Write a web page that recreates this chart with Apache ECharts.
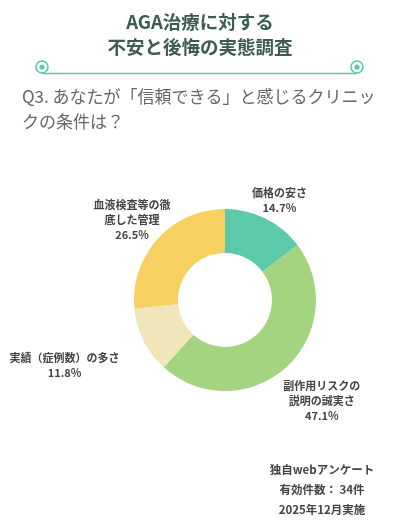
<!DOCTYPE html>
<html>
<head>
<meta charset="utf-8">
<script src="https://cdn.jsdelivr.net/npm/echarts@6/dist/echarts.min.js"></script>
<style>
  html, body { margin: 0; padding: 0; background: #fff; }
  #chart { width: 400px; height: 530px; }
</style>
</head>
<body>
<div id="chart"></div>
<script>
// 回答項目と割合
const categories = ['価格の安さ', '副作用リスクの\n説明の誠実さ', '実績（症例数）の多さ', '血液検査等の徹\n底した管理']
const values = [14.7, 47.1, 11.8, 26.5]
const colors = ['#5cc9a8', '#a4d480', '#f0e6b9', '#f7d062']

const titleLines = ['AGA治療に対する', '不安と後悔の実態調査']
const question = ['Q3. あなたが「信頼できる」と感じるクリニッ', 'クの条件は？']
const footer = ['独自webアンケート', '有効件数： 34件', '2025年12月実施']

const font = '"Noto Sans CJK JP", "Noto Sans", sans-serif'
const chart = echarts.init(document.getElementById('chart'))

// ラベルの引き出し位置（項目ごと）
const labelLines = [
  { length: 20, length2: 0 },
  { length: 45, length2: 0 },
  { length: 56, length2: 24 },
  { length: 28, length2: 0 }
]

const lineColor = '#5cc9a8'
const swirl = cx => [
  { type: 'circle', shape: { cx, cy: 67, r: 6 }, style: { fill: 'none', stroke: lineColor, lineWidth: 1.6 } },
  { type: 'circle', shape: { cx, cy: 67, r: 2.6 }, style: { fill: lineColor } }
]

chart.setOption({
  backgroundColor: '#fff',
  graphic: [
    ...titleLines.map((t, i) => ({
      type: 'text', left: 'center', top: 13 + i * 25,
      style: { text: t, font: `bold 18.5px ${font}`, fill: '#3d5c50' }
    })),
    ...swirl(42), ...swirl(357),
    { type: 'line', shape: { x1: 42, y1: 73.5, x2: 357, y2: 73.5 }, style: { stroke: lineColor, lineWidth: 1.6 } },
    ...question.map((t, i) => ({
      type: 'text', left: 22, top: 88 + i * 25,
      style: { text: t, font: `17px ${font}`, fill: '#666' }
    })),
    ...footer.map((t, i) => ({
      type: 'text', x: 322, y: 464 + i * 20,
      style: { text: t, font: `bold 11.5px ${font}`, fill: '#444', align: 'center' }
    }))
  ],
  series: [{
    type: 'pie',
    center: [225, 300],
    radius: [47, 91],
    startAngle: 90,
    clockwise: true,
    silent: true,
    data: categories.map((name, i) => ({
      name, value: values[i], itemStyle: { color: colors[i] }, labelLine: labelLines[i]
    })),
    label: {
      show: true,
      position: 'outside',
      formatter: p => `${p.name}\n${p.value}%`,
      fontFamily: font,
      fontSize: 11,
      fontWeight: 'bold',
      color: '#444',
      lineHeight: 15,
      align: 'center',
      overflow: 'none',
      edgeDistance: 0
    },
    labelLine: { show: false },
    labelLayout: { align: 'center', hideOverlap: false, moveOverlap: false }
  }]
})
</script>
</body>
</html>
